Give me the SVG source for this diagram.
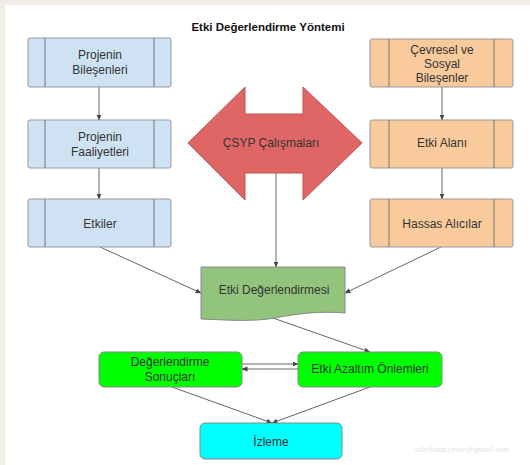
<svg xmlns="http://www.w3.org/2000/svg" width="530" height="465" viewBox="0 0 530 465">
<defs>
<marker id="ah" markerWidth="6" markerHeight="6" refX="5.5" refY="3" orient="auto" markerUnits="userSpaceOnUse">
<path d="M0,0.5 L6,3 L0,5.5 Z" fill="#444"/>
</marker>
<style>
text{font-family:"Liberation Sans",Arial,sans-serif;font-size:12px;fill:#333;text-anchor:middle;dominant-baseline:central}
.title{font-weight:bold;font-size:11.5px;fill:#111}
.blue{fill:#cfe2f3;stroke:#999;stroke-width:1}
.orange{fill:#f9cb9c;stroke:#999;stroke-width:1}
.side{stroke:#777;stroke-width:1;fill:none}
.conn line,.conn path{stroke:#666;stroke-width:1;fill:none;marker-end:url(#ah)}
.bright{fill:#00ff00;stroke:#888;stroke-width:1}
.cyan{fill:#00ffff;stroke:#888;stroke-width:1}
</style>
</defs>
<rect x="0" y="0" width="530" height="465" fill="#f1eee8"/>
<rect x="5" y="5" width="525" height="460" fill="#ffffff"/>
<text class="title" x="268" y="27">Etki Değerlendirme Yöntemi</text>

<g class="conn">
<line x1="99" y1="87" x2="99" y2="120"/>
<line x1="99" y1="168" x2="99" y2="199"/>
<line x1="442" y1="87" x2="442" y2="120"/>
<line x1="442" y1="168" x2="442" y2="199"/>
<line x1="100" y1="247" x2="201" y2="293"/>
<line x1="441" y1="247" x2="345" y2="293"/>
<line x1="276" y1="173" x2="276" y2="267"/>
<line x1="273" y1="318" x2="370" y2="352"/>
<line x1="242" y1="364" x2="298" y2="364"/>
<line x1="298" y1="369" x2="242" y2="369"/>
<line x1="172" y1="387" x2="272" y2="423"/>
<line x1="370" y1="387" x2="272" y2="423"/>
</g>

<g id="projenin-bilesenleri">
<rect class="blue" x="28" y="38" width="143" height="49" rx="2"/>
<path class="side" d="M45,38 V87 M154,38 V87"/>
<text x="100" y="55">Projenin</text>
<text x="100" y="70">Bileşenleri</text>
</g>
<g id="projenin-faaliyetleri">
<rect class="blue" x="28" y="120" width="143" height="48" rx="2"/>
<path class="side" d="M45,120 V168 M154,120 V168"/>
<text x="100" y="137">Projenin</text>
<text x="100" y="152">Faaliyetleri</text>
</g>
<g id="etkiler">
<rect class="blue" x="28" y="199" width="143" height="48" rx="2"/>
<path class="side" d="M45,199 V247 M154,199 V247"/>
<text x="100" y="224">Etkiler</text>
</g>

<g id="cevresel-sosyal">
<rect class="orange" x="370" y="39" width="143" height="48" rx="2"/>
<path class="side" d="M389,39 V87 M494,39 V87"/>
<text x="442" y="50">Çevresel ve</text>
<text x="442" y="64">Sosyal</text>
<text x="442" y="78">Bileşenler</text>
</g>
<g id="etki-alani">
<rect class="orange" x="370" y="120" width="143" height="48" rx="2"/>
<path class="side" d="M389,120 V168 M494,120 V168"/>
<text x="442" y="143">Etki Alanı</text>
</g>
<g id="hassas-alicilar">
<rect class="orange" x="370" y="199" width="143" height="48" rx="2"/>
<path class="side" d="M389,199 V247 M494,199 V247"/>
<text x="442" y="224">Hassas Alıcılar</text>
</g>

<g id="csyp">
<path d="M188,143 L245,87 L245,114 L303,114 L303,87 L362,143 L303,200 L303,173 L245,173 L245,200 Z" fill="#e06666" stroke="#b65555" stroke-width="1"/>
<text x="271" y="143">ÇSYP Çalışmaları</text>
</g>

<g id="etki-degerlendirmesi">
<path d="M201,267 H345 V313 C322,311 300,313 275,318 C252,322 228,320 201,319 Z" fill="#93c47d" stroke="#888" stroke-width="1"/>
<text x="274" y="290">Etki Değerlendirmesi</text>
</g>

<g id="degerlendirme-sonuclari">
<rect class="bright" x="99" y="352" width="143" height="35" rx="5"/>
<text x="170" y="362">Değerlendirme</text>
<text x="170" y="377">Sonuçları</text>
</g>
<g id="etki-azaltim">
<rect class="bright" x="298" y="352" width="144" height="35" rx="5"/>
<text x="370" y="369">Etki Azaltım Önlemleri</text>
</g>
<g id="izleme">
<rect class="cyan" x="200" y="423" width="142" height="36" rx="5"/>
<text x="271" y="442">İzleme</text>
</g>
<text x="462" y="449" textLength="94" style="font-family:'Liberation Serif',serif;font-size:8px;fill:#e0e0e0;font-style:italic">aliyilmaz.cevre@gmail.com</text>
</svg>
